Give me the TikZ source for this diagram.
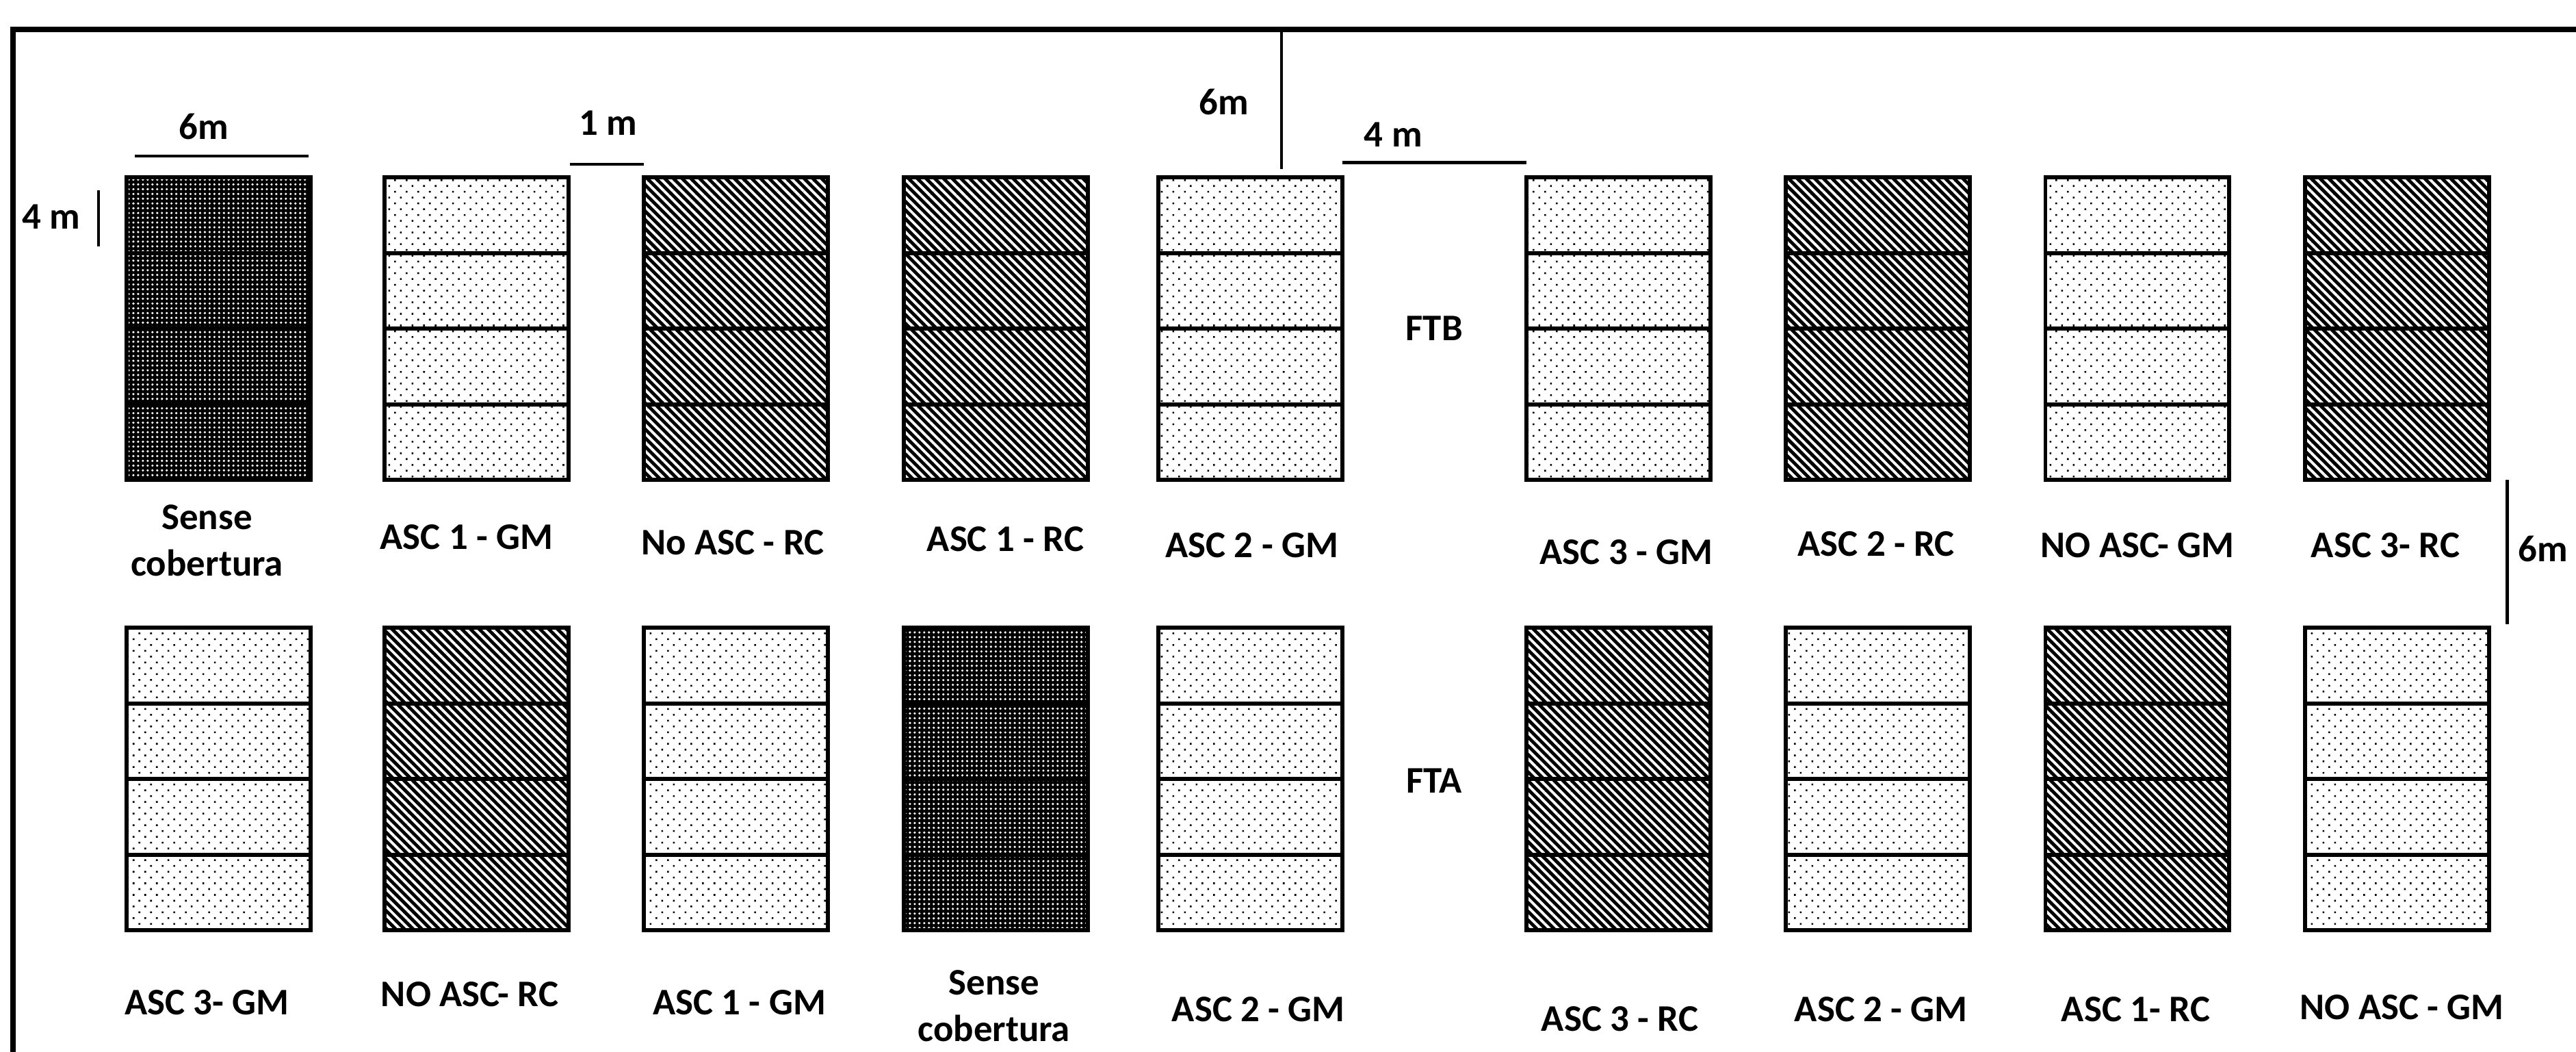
\documentclass[tikz,border=0pt]{standalone}
\usepackage{fontspec}
\setmainfont{Carlito}
\usetikzlibrary{patterns.meta}

\tikzset{
	parcel/.style={draw=black, line width=1.4pt},
	dotty/.style={pattern={Dots[angle=45,distance=0.1cm,radius=0.015cm]}, pattern color=black},
	hatch/.style={fill=black, postaction={pattern={Lines[angle=-45,distance=0.075cm,line width=0.032cm]}, pattern color=white}},
	dark/.style={fill=black, postaction={pattern={Dots[distance=0.058cm,radius=0.015cm]}, pattern color=white}},
	lab/.style={font=\bfseries\fontsize{13}{16}\selectfont, align=center, inner sep=0pt},
	dim/.style={line width=1.1pt}
}

\begin{document}
\begin{tikzpicture}
		\clip (0,0) rectangle (31.36,12.8);
		\draw[line width=2pt] (0.16,-0.5) -- (0.16,12.44) -- (32,12.44);
		
		\foreach \x/\p in {1.54/dark,4.68/dotty,7.84/hatch,11.0/hatch,14.1/dotty,18.58/dotty,21.74/hatch,24.9/dotty,28.06/hatch}{
			\fill[\p] (\x,6.96) rectangle ++(2.24,3.68);
			\draw[parcel] (\x,6.96) rectangle ++(2.24,3.68);
			\foreach \k in {1,2,3} \draw[parcel] (\x,6.96+0.92*\k) -- ++(2.24,0);
		}
		\foreach \x/\p in {1.54/dotty,4.68/hatch,7.84/dotty,11.0/dark,14.1/dotty,18.58/hatch,21.74/dotty,24.9/hatch,28.06/dotty}{
			\fill[\p] (\x,1.48) rectangle ++(2.24,3.68);
			\draw[parcel] (\x,1.48) rectangle ++(2.24,3.68);
			\foreach \k in {1,2,3} \draw[parcel] (\x,1.48+0.92*\k) -- ++(2.24,0);
		}
		
		\node[lab] (t1) at (2.52,6.22) {Sense\\cobertura};
		\node[lab] (t2) at (5.68,6.26) {ASC 1 - GM};
		\node[lab] (t3) at (8.92,6.2) {No ASC - RC};
		\node[lab] (t4) at (12.24,6.24) {ASC 1 - RC};
		\node[lab] (t5) at (15.24,6.16) {ASC 2 - GM};
		\node[lab] (t6) at (19.8,6.08) {ASC 3 - GM};
		\node[lab] (t7) at (22.84,6.18) {ASC 2 - RC};
		\node[lab] (t8) at (26.02,6.16) {NO ASC- GM};
		\node[lab] (t9) at (29.04,6.16) {ASC 3- RC};
		
		\node[lab] (b1) at (2.52,0.6) {ASC 3- GM};
		\node[lab] (b2) at (5.72,0.7) {NO ASC- RC};
		\node[lab] (b3) at (9.0,0.6) {ASC 1 - GM};
		\node[lab] (b4) at (12.1,0.56) {Sense\\cobertura};
		\node[lab] (b5) at (15.32,0.52) {ASC 2 - GM};
		\node[lab] (b6) at (19.72,0.4) {ASC 3 - RC};
		\node[lab] (b7) at (22.9,0.52) {ASC 2 - GM};
		\node[lab] (b8) at (26.0,0.52) {ASC 1- RC};
		\node[lab] (b9) at (29.24,0.54) {NO ASC - GM};
		
		\node[lab] (ftb) at (17.46,8.8) {FTB};
		\node[lab] (fta) at (17.46,3.3) {FTA};
		
		\node[lab] (w6) at (2.48,11.26) {6m};
		\draw[dim] (1.64,10.9) -- (3.76,10.9);
		\node[lab] (w1) at (7.4,11.3) {1 m};
		\draw[dim] (6.94,10.8) -- (7.84,10.8);
		\node[lab] (s6) at (14.9,11.56) {6m};
		\draw[dim] (15.6,12.44) -- (15.6,10.74);
		\node[lab] (w4) at (16.96,11.16) {4 m};
		\draw[dim] (16.34,10.82) -- (18.58,10.82);
		\node[lab] (h4) at (0.62,10.16) {4 m};
		\draw[dim] (1.2,10.48) -- (1.2,9.8);
		\node[lab] (r6) at (30.96,6.12) {6m};
		\draw[dim] (30.52,6.96) -- (30.52,5.2);
		
	\end{tikzpicture}
\end{document}
